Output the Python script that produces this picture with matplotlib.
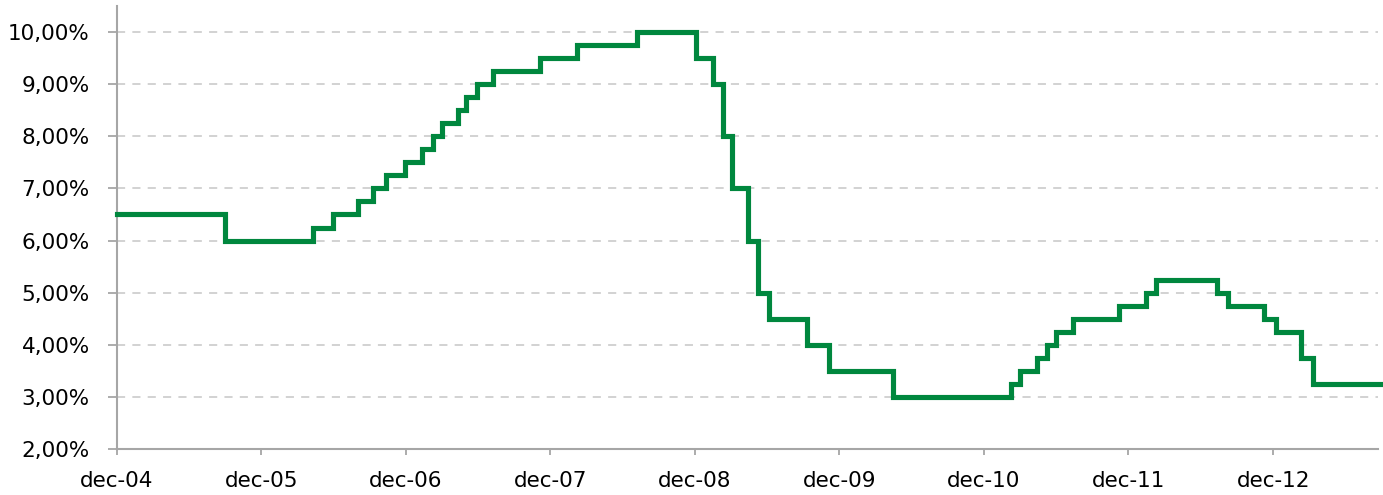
import numpy as np
import pandas as pd
from matplotlib import pyplot as plt
import matplotlib.dates as mdates
from matplotlib.ticker import FuncFormatter, MultipleLocator

# step changes in the policy rate (date of change, new rate in %)
change_dates = ['2004-12-01', '2005-08-31', '2006-04-11', '2006-05-31', '2006-08-02',
                '2006-09-10', '2006-10-11', '2006-11-28', '2007-01-10', '2007-02-07',
                '2007-03-03', '2007-04-11', '2007-05-03', '2007-05-30', '2007-07-09',
                '2007-11-04', '2008-02-07', '2008-07-08', '2008-12-04', '2009-01-16',
                '2009-02-09', '2009-03-05', '2009-04-14', '2009-05-08', '2009-06-05',
                '2009-09-10', '2009-11-04', '2010-04-14', '2011-02-07', '2011-03-03',
                '2011-04-15', '2011-05-09', '2011-06-02', '2011-07-15', '2011-11-08',
                '2012-01-14', '2012-02-10', '2012-07-11', '2012-08-08', '2012-11-07',
                '2012-12-07', '2013-02-09', '2013-03-12']
rates = [6.50, 6.00, 6.25, 6.50, 6.75,
         7.00, 7.25, 7.50, 7.75, 8.00,
         8.25, 8.50, 8.75, 9.00, 9.25,
         9.50, 9.75, 10.00, 9.50, 9.00,
         8.00, 7.00, 6.00, 5.00, 4.50,
         4.00, 3.50, 3.00, 3.25, 3.50,
         3.75, 4.00, 4.25, 4.50, 4.75,
         5.00, 5.25, 5.00, 4.75, 4.50,
         4.25, 3.75, 3.25]
end_date = '2013-09-05'

dutch_months = ['jan', 'feb', 'mrt', 'apr', 'mei', 'jun',
                'jul', 'aug', 'sep', 'okt', 'nov', 'dec']

green = '#00873E'
axis_grey = '#A6A6A6'
grid_grey = '#CFCFCF'

x = pd.to_datetime(change_dates + [end_date])
y = rates + [rates[-1]]

fig = plt.figure(figsize=(13.83, 4.95), dpi=100)
ax = fig.add_axes([117 / 1383, 46 / 495, 1261 / 1383, 443 / 495])

ax.plot(x, y, drawstyle='steps-post', color=green, lw=3.7,
        solid_joinstyle='miter', clip_on=False, zorder=3)

ax.set_xlim(pd.Timestamp('2004-12-01'), pd.Timestamp('2013-08-23'))
ax.set_ylim(2, 10.5)

ax.yaxis.set_major_locator(MultipleLocator(1))
ax.yaxis.set_major_formatter(FuncFormatter(lambda v, p: f'{v:.2f}'.replace('.', ',') + '%'))
ax.xaxis.set_major_locator(mdates.MonthLocator(bymonth=12, bymonthday=1))

def month_label(v, p):
    d = mdates.num2date(v)
    return f'{dutch_months[d.month - 1]}-{d.year % 100:02d}'

ax.xaxis.set_major_formatter(FuncFormatter(month_label))

# dashed horizontal grid, skip the bottom (axis) line
for level in range(3, 11):
    ax.axhline(level, color=grid_grey, lw=1.3, linestyle=(0, (4.5, 4)), zorder=1)

for side in ['top', 'right']:
    ax.spines[side].set_visible(False)
for side in ['left', 'bottom']:
    ax.spines[side].set_color(axis_grey)
    ax.spines[side].set_linewidth(1.5)

ax.tick_params(axis='y', direction='out', length=6.5, width=1.3, color=axis_grey,
               pad=13, labelsize=15.5, labelcolor='black')
ax.tick_params(axis='x', direction='out', length=4.5, width=1.3, color=axis_grey,
               pad=11, labelsize=15.5, labelcolor='black')

fig.savefig('out.png', dpi=100)
